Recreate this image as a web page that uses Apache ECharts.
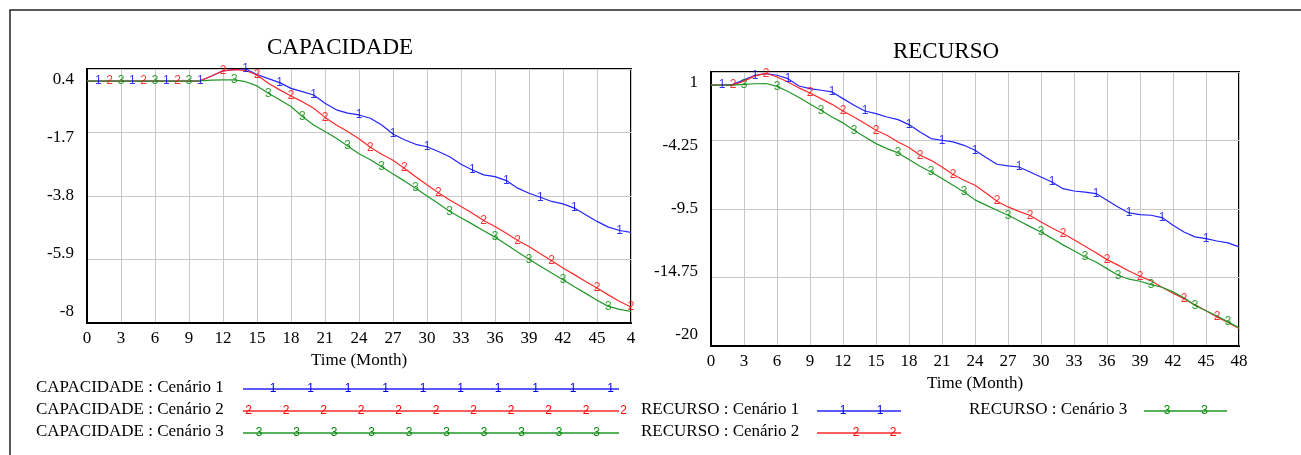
<!DOCTYPE html>
<html><head><meta charset="utf-8">
<script src="https://cdn.jsdelivr.net/npm/echarts@6/dist/echarts.min.js"></script>
<style>html,body{margin:0;padding:0;background:#fff}#c{width:1301px;height:455px}</style>
</head><body><div id="c"></div>
<script>
// ---------- data ----------
const months = [0,1,2,3,4,5,6,7,8,9,10,11,12,13,14,15,16,17,18,19,20,21,22,23,24,25,26,27,28,29,30,31,32,33,34,35,36,37,38,39,40,41,42,43,44,45,46,47,48];
const capTicks = [-8,-5.9,-3.8,-1.7,0.4];
const recTicks = [-20,-14.75,-9.5,-4.25,1];
const capacidade1 = [0,0,0,0,0,0,0,0,0,0, 0.01,0.17,0.34,0.38,0.4,0.22,0.08,-0.05,-0.24,-0.35, -0.46,-0.73,-0.95,-1.06,-1.12,-1.23,-1.45,-1.75,-1.94,-2.09, -2.17,-2.33,-2.5,-2.75,-2.94,-3.1,-3.16,-3.29,-3.54,-3.71, -3.84,-3.98,-4.06,-4.2,-4.42,-4.64,-4.83,-4.94,-5.0];
const capacidade2 = [0,0,0,0,0,0,0,0,0,0, 0.01,0.17,0.34,0.38,0.35,0.2,-0.07,-0.29,-0.49,-0.68, -0.9,-1.2,-1.45,-1.67,-1.91,-2.19,-2.42,-2.62,-2.88,-3.16, -3.43,-3.69,-3.93,-4.15,-4.37,-4.61,-4.81,-5.03,-5.27,-5.47, -5.71,-5.94,-6.18,-6.4,-6.63,-6.84,-7.07,-7.29,-7.47];
const capacidade3 = [0,0,0,0,0,0,0,0,0,0, 0.01,0.03,0.04,0.04,-0.02,-0.16,-0.4,-0.62,-0.84,-1.17, -1.45,-1.67,-1.89,-2.15,-2.4,-2.6,-2.83,-3.07,-3.3,-3.54, -3.8,-4.05,-4.31,-4.52,-4.73,-4.95,-5.16,-5.4,-5.65,-5.89, -6.12,-6.35,-6.57,-6.8,-7.02,-7.25,-7.45,-7.55,-7.62];
const recurso1 = [0,0,0.05,0.4,0.75,0.88,0.75,0.49,-0.07,-0.27, -0.4,-0.53,-1.04,-1.55,-1.99,-2.19,-2.45,-2.65,-3.03,-3.6, -4.1,-4.23,-4.36,-4.62,-5.0,-5.55,-6.07,-6.2,-6.28,-6.66, -7.05,-7.43,-7.94,-8.12,-8.2,-8.32,-8.83,-9.35,-9.8,-9.93, -9.98,-10.16,-10.75,-11.26,-11.64,-11.77,-11.95,-12.1,-12.4];
const recurso2 = [0,0,0,0.3,0.7,0.9,0.62,0.23,-0.22,-0.61, -1.04,-1.48,-1.99,-2.45,-2.95,-3.47,-3.85,-4.36,-4.79,-5.38, -5.77,-6.28,-6.85,-7.3,-7.68,-8.27,-8.9,-9.34,-9.68,-10.0, -10.5,-10.95,-11.38,-11.85,-12.35,-12.85,-13.38,-13.8,-14.25,-14.66, -15.0,-15.5,-15.95,-16.37,-16.85,-17.3,-17.77,-18.2,-18.66];
const recurso3 = [0,0,0,0.05,0.1,0.12,-0.1,-0.5,-0.95,-1.45, -1.93,-2.45,-2.9,-3.47,-3.98,-4.49,-4.87,-5.2,-5.71,-6.23, -6.66,-7.17,-7.68,-8.2,-8.8,-9.2,-9.6,-9.98,-10.4,-10.85, -11.26,-11.75,-12.25,-12.7,-13.18,-13.56,-14.07,-14.58,-14.88,-15.04, -15.3,-15.5,-15.85,-16.3,-16.9,-17.3,-17.7,-18.15,-18.6];
const capMarks1 = [1,4,7,10,14,17,20,24,27,30,34,37,40,43,47];
const capMarks2 = [2,5,8,12,15,18,21,25,28,31,35,38,41,45,48];
const capMarks3 = [3,6,9,13,16,19,23,26,29,32,36,39,42,46];
const recMarks1 = [1,4,7,11,14,18,21,24,28,31,35,38,41,45];
const recMarks2 = [2,5,9,12,15,19,22,26,29,32,36,39,43,46];
const recMarks3 = [3,6,10,13,17,20,23,27,30,34,37,40,44,47];
const titles = ['CAPACIDADE','RECURSO'];
const axisName = 'Time (Month)';
const capLegend = ['CAPACIDADE : Cenário 1','CAPACIDADE : Cenário 2','CAPACIDADE : Cenário 3'];
const recLegend = ['RECURSO : Cenário 1','RECURSO : Cenário 2','RECURSO : Cenário 3'];

// ---------- style ----------
const SERIF = 'Liberation Serif';
const COLORS = ['#2424ff','#ff2a2a','#22962a'];
const MARK_COLORS = ['#0000ee','#ff0000','#008a00'];

const chart = echarts.init(document.getElementById('c'));

function yFormatter(ticks){
  const keys = ['b2','b1','m','t1','t2'];
  return function(v){
    const i = ticks.findIndex(t => Math.abs(t - v) < 1e-6);
    return '{' + (keys[i] || 'm') + '|' + v + '}';
  };
}
const labelBase = {fontFamily: SERIF, fontSize: 17, color: '#000'};
const yRich = {
  t2: Object.assign({padding:[22,0,0,0]}, labelBase),
  t1: Object.assign({padding:[11,0,0,0]}, labelBase),
  m: Object.assign({}, labelBase),
  b1: Object.assign({padding:[0,0,11,0]}, labelBase),
  b2: Object.assign({padding:[0,0,22,0]}, labelBase)
};

function xAxis(idx, clipLast){
  return {
    type:'value', gridIndex: idx, min: 0, max: 48, interval: 3,
    name: axisName, nameLocation:'middle', nameGap: 28,
    nameTextStyle:{fontFamily: SERIF, fontSize: 17, color:'#000'},
    axisLine:{show:true, onZero:false, lineStyle:{color:'#000', width:2}},
    axisTick:{show:false},
    axisLabel:{margin: 7, fontFamily: SERIF, fontSize: 17, color:'#000',
      formatter: v => (clipLast && v === 48) ? String(v).charAt(0) : String(v)},
    splitLine:{show:true, lineStyle:{color:'#c8c8c8', width:1}}
  };
}
function yAxis(idx, ticks){
  return {
    type:'value', gridIndex: idx, min: ticks[0], max: ticks[ticks.length-1],
    axisLine:{show:true, lineStyle:{color:'#000', width:2}},
    axisTick:{show:false, customValues: ticks},
    axisLabel:{margin: 13, customValues: ticks, formatter: yFormatter(ticks), rich: yRich},
    splitLine:{show:true, lineStyle:{color:'#c8c8c8', width:1}}
  };
}
function lineSeries(idx, vals, c){
  return {type:'line', xAxisIndex: idx, yAxisIndex: idx, data: months.map((t,i)=>[t, vals[i]]),
    showSymbol:false, symbol:'none', lineStyle:{color: COLORS[c], width:1.2}, itemStyle:{color: COLORS[c]},
    silent:true, animation:false, z:3};
}
function markSeries(idx, vals, marks, c){
  return {type:'scatter', xAxisIndex: idx, yAxisIndex: idx, data: marks.map(t=>[t, vals[months.indexOf(t)]]),
    symbolSize: 0, silent:true, animation:false, z:4,
    label:{show:true, position:'inside', formatter: String(c+1), color: MARK_COLORS[c],
      fontFamily:'Liberation Sans', fontSize: 12}};
}

// legend graphics
function legendItems(text, c, tx, y, x1, x2, m0, step, n){
  const els = [
    {type:'text', left: tx, top: y - 10, style:{text: text, font: '17px "' + SERIF + '"', fill:'#000'}},
    {type:'line', shape:{x1:x1, y1:y, x2:x2, y2:y}, style:{stroke: COLORS[c], lineWidth:1.5}}
  ];
  for (let k=0;k<n;k++){
    els.push({type:'text', x: m0 + k*step, y: y, style:{text: String(c+1), font:'12px "Liberation Sans"',
      fill: MARK_COLORS[c], align:'center', verticalAlign:'middle'}});
  }
  return els;
}
let graphics = [
  {type:'rect', shape:{x:10, y:10, width:1300, height:460}, style:{fill:'none', stroke:'#222', lineWidth:1.5}, z:-1}
];
graphics = graphics
  .concat(legendItems(capLegend[0], 0, 36, 389, 243, 619, 273, 37.5, 10))
  .concat(legendItems(capLegend[1], 1, 36, 411, 243, 619, 248.5, 37.5, 11))
  .concat(legendItems(capLegend[2], 2, 36, 433, 243, 619, 259, 37.5, 10))
  .concat(legendItems(recLegend[0], 0, 641, 411, 817, 901, 843, 37, 2))
  .concat(legendItems(recLegend[1], 1, 641, 433, 817, 901, 856, 37, 2))
  .concat(legendItems(recLegend[2], 2, 969, 411, 1144, 1227, 1167, 37.5, 2));

chart.setOption({
  animation:false,
  backgroundColor:'#fff',
  title:[
    {text: titles[0], left: 335, top: 31, textAlign:'center', textStyle:{fontFamily: SERIF, fontSize: 23, fontWeight:'normal', color:'#000'}},
    {text: titles[1], left: 941, top: 35, textAlign:'center', textStyle:{fontFamily: SERIF, fontSize: 23, fontWeight:'normal', color:'#000'}}
  ],
  grid:[
    {left: 87, top: 69, width: 544, height: 254, show:true, borderColor:'#000', borderWidth:2, containLabel:false},
    {left: 711, top: 72, width: 528, height: 274, show:true, borderColor:'#000', borderWidth:2, containLabel:false}
  ],
  xAxis:[xAxis(0, true), xAxis(1, false)],
  yAxis:[yAxis(0, capTicks), yAxis(1, recTicks)],
  series:[
    lineSeries(0, capacidade1, 0), lineSeries(0, capacidade2, 1), lineSeries(0, capacidade3, 2),
    markSeries(0, capacidade1, capMarks1, 0), markSeries(0, capacidade2, capMarks2, 1), markSeries(0, capacidade3, capMarks3, 2),
    lineSeries(1, recurso1, 0), lineSeries(1, recurso2, 1), lineSeries(1, recurso3, 2),
    markSeries(1, recurso1, recMarks1, 0), markSeries(1, recurso2, recMarks2, 1), markSeries(1, recurso3, recMarks3, 2)
  ],
  graphic: graphics
});
</script></body></html>
